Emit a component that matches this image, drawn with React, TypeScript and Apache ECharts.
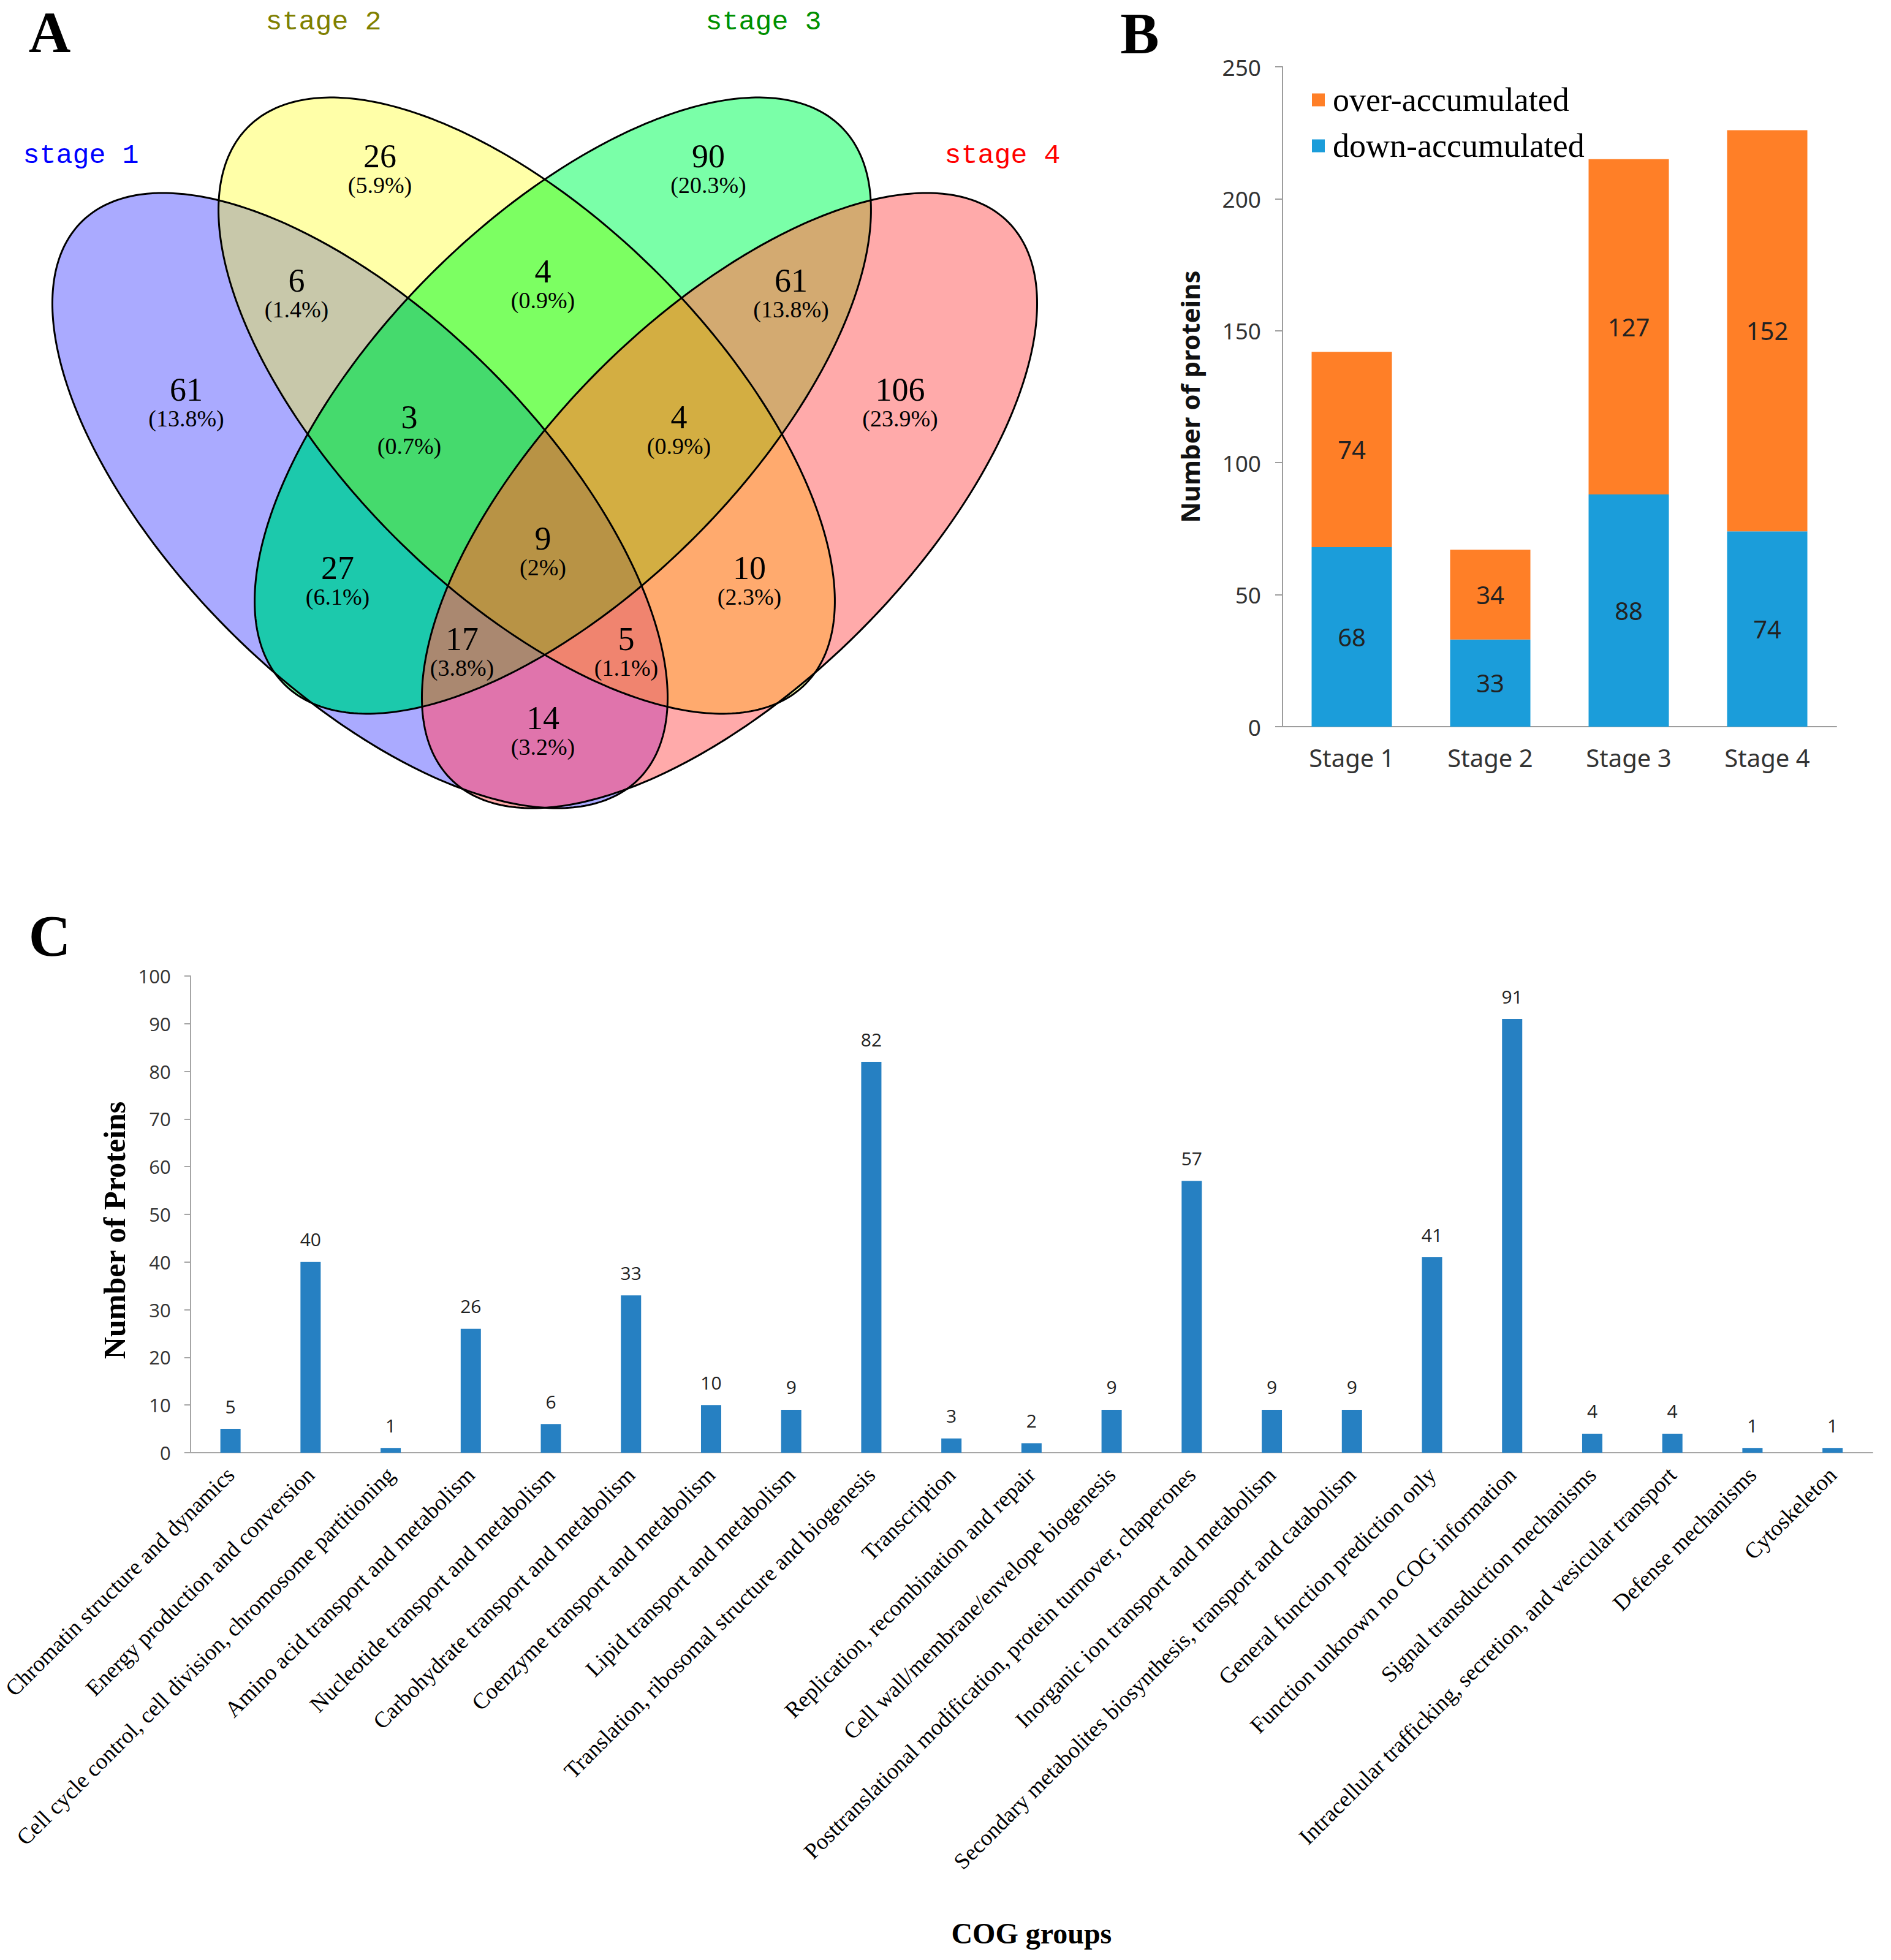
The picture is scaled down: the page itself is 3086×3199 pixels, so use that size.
import React, { useEffect, useRef } from "react";
import * as echarts from "echarts";

// ---------- Panel A data (Venn) ----------
const vennSetNames = ["stage 1", "stage 2", "stage 3", "stage 4"];
const vennSetColors = ["#0000FF", "#808000", "#009000", "#FF0000"];
const vennRegionKeys = ["1", "2", "3", "4", "12", "13", "14", "23", "24", "34", "123", "124", "134", "234", "1234"];
const vennRegionCounts = [61, 26, 90, 106, 6, 27, 14, 4, 10, 61, 3, 5, 17, 4, 9];

// ---------- Panel B data ----------
const stageNames = ["Stage 1", "Stage 2", "Stage 3", "Stage 4"];
const downAccumulated = [68, 33, 88, 74];
const overAccumulated = [74, 34, 127, 152];

// ---------- Panel C data ----------
const cogGroups = [
  "Chromatin structure and dynamics",
  "Energy production and conversion",
  "Cell cycle control, cell division, chromosome partitioning",
  "Amino acid transport and metabolism",
  "Nucleotide transport and metabolism",
  "Carbohydrate transport and metabolism",
  "Coenzyme transport and metabolism",
  "Lipid transport and metabolism",
  "Translation, ribosomal structure and biogenesis",
  "Transcription",
  "Replication, recombination and repair",
  "Cell wall/membrane/envelope biogenesis",
  "Posttranslational modification, protein turnover, chaperones",
  "Inorganic ion transport and metabolism",
  "Secondary metabolites biosynthesis, transport and catabolism",
  "General function prediction only",
  "Function unknown no COG information",
  "Signal transduction mechanisms",
  "Intracellular trafficking, secretion, and vesicular transport",
  "Defense mechanisms",
  "Cytoskeleton",
];
const cogCounts = [5, 40, 1, 26, 6, 33, 10, 9, 82, 3, 2, 9, 57, 9, 9, 41, 91, 4, 4, 1, 1];

// ---------- Venn layout (geometry / styles) ----------
// [cx, cy, semi-major, semi-minor, angle in degrees (screen coords)]
const ellipseGeom: number[][] = [
  [587.5, 817, 643, 301, 45],
  [859.5, 662, 643, 304, 45],
  [918.5, 662, 643, 304, -45],
  [1190.5, 817, 643, 301, -45],
];
const regionColors: Record<string, string> = {
  "1": "#AAAAFF",
  "2": "#FFFFA8",
  "3": "#7AFFA8",
  "4": "#FFAAAA",
  "12": "#C8C8AA",
  "13": "#1CC9AC",
  "14": "#E074AC",
  "23": "#7CFF62",
  "24": "#FFAA6E",
  "34": "#D3AA71",
  "123": "#45DA6D",
  "124": "#F0846F",
  "134": "#AA8870",
  "234": "#D3AE42",
  "1234": "#B89345",
};
const regionLabelPos: Record<string, number[]> = {
  "1": [304, 639],
  "2": [620, 258],
  "3": [1156, 258],
  "4": [1469, 639],
  "12": [484, 461],
  "13": [551, 930],
  "14": [886, 1175],
  "23": [886, 446],
  "24": [1223, 930],
  "34": [1291, 461],
  "123": [668, 684],
  "124": [1022, 1046],
  "134": [754, 1046],
  "234": [1108, 684],
  "1234": [886, 882],
};
const setLabelPos = [
  [132, 254],
  [528, 36],
  [1246, 36],
  [1636, 254],
];

type Pt = [number, number];

function ellipsePts(g: number[], n = 360): Pt[] {
  const [cx, cy, a, b, deg] = g;
  const th = (deg * Math.PI) / 180;
  const c = Math.cos(th);
  const s = Math.sin(th);
  const pts: Pt[] = [];
  for (let i = 0; i < n; i++) {
    const t = (2 * Math.PI * i) / n;
    const u = a * Math.cos(t);
    const v = b * Math.sin(t);
    pts.push([cx + u * c - v * s, cy + u * s + v * c]);
  }
  return pts;
}

function polyArea(p: Pt[]): number {
  let s = 0;
  for (let i = 0; i < p.length; i++) {
    const j = (i + 1) % p.length;
    s += p[i][0] * p[j][1] - p[j][0] * p[i][1];
  }
  return s / 2;
}

function lineInter(P: Pt, Q: Pt, A: Pt, B: Pt): Pt {
  const [x1, y1] = P;
  const [x2, y2] = Q;
  const [x3, y3] = A;
  const [x4, y4] = B;
  const d = (x1 - x2) * (y3 - y4) - (y1 - y2) * (x3 - x4);
  if (Math.abs(d) < 1e-12) return [x1, y1];
  const t = ((x1 - x3) * (y3 - y4) - (y1 - y3) * (x3 - x4)) / d;
  return [x1 + t * (x2 - x1), y1 + t * (y2 - y1)];
}

function clipConvex(subject: Pt[], clipPoly: Pt[]): Pt[] {
  const sg = Math.sign(polyArea(clipPoly));
  let out = subject;
  for (let i = 0; i < clipPoly.length; i++) {
    const A = clipPoly[i];
    const B = clipPoly[(i + 1) % clipPoly.length];
    const inside = (P: Pt) => sg * ((B[0] - A[0]) * (P[1] - A[1]) - (B[1] - A[1]) * (P[0] - A[0])) >= 0;
    const inp = out;
    out = [];
    if (!inp.length) break;
    for (let k = 0; k < inp.length; k++) {
      const P = inp[k];
      const Q = inp[(k + 1) % inp.length];
      const pin = inside(P);
      const qin = inside(Q);
      if (pin) {
        out.push(P);
        if (!qin) out.push(lineInter(P, Q, A, B));
      } else if (qin) {
        out.push(lineInter(P, Q, A, B));
      }
    }
  }
  return out;
}

function pctText(v: number, total: number): string {
  let s = ((v / total) * 100).toFixed(1);
  if (s.endsWith(".0")) s = s.slice(0, -2);
  return "(" + s + "%)";
}

function buildVennGraphics(): any[] {
  const ell = ellipseGeom.map((g) => ellipsePts(g));
  const els: any[] = [];
  const order = vennRegionKeys.map((k, i) => ({ k, i })).sort((a, b) => a.k.length - b.k.length);
  for (const { k } of order) {
    const idx = k.split("").map((c) => parseInt(c, 10) - 1);
    let poly = ell[idx[0]];
    for (let j = 1; j < idx.length; j++) poly = clipConvex(poly, ell[idx[j]]);
    if (poly.length < 3) continue;
    els.push({
      type: "polygon",
      silent: true,
      shape: { points: poly },
      style: { fill: regionColors[k], stroke: regionColors[k], lineWidth: 0.6 },
    });
  }
  for (const p of ell) {
    els.push({
      type: "polygon",
      silent: true,
      shape: { points: p },
      style: { fill: "none", stroke: "#000", lineWidth: 3 },
    });
  }
  const total = vennRegionCounts.reduce((a, b) => a + b, 0);
  vennRegionKeys.forEach((k, i) => {
    const [x, y] = regionLabelPos[k];
    els.push({
      type: "text",
      silent: true,
      x,
      y: y - 3,
      style: {
        text: String(vennRegionCounts[i]),
        fill: "#000",
        fontFamily: "Liberation Serif",
        fontSize: 54,
        lineHeight: 54,
        textAlign: "center",
        textVerticalAlign: "middle",
      },
    });
    els.push({
      type: "text",
      silent: true,
      x,
      y: y + 44,
      style: {
        text: pctText(vennRegionCounts[i], total),
        fill: "#000",
        fontFamily: "Liberation Serif",
        fontSize: 38,
        lineHeight: 38,
        textAlign: "center",
        textVerticalAlign: "middle",
      },
    });
  });
  vennSetNames.forEach((name, i) => {
    els.push({
      type: "text",
      silent: true,
      x: setLabelPos[i][0],
      y: setLabelPos[i][1],
      style: {
        text: name,
        fill: vennSetColors[i],
        fontFamily: "Liberation Mono",
        fontSize: 45,
        textAlign: "center",
        textVerticalAlign: "middle",
      },
    });
  });
  return els;
}

function panelLetter(text: string, x: number, y: number) {
  return {
    type: "text",
    silent: true,
    x,
    y,
    style: {
      text,
      fill: "#000",
      fontFamily: "Liberation Serif",
      fontWeight: "bold",
      fontSize: 95,
      textAlign: "center",
      textVerticalAlign: "middle",
    },
  };
}

export default function App() {
  const ref = useRef<HTMLDivElement>(null);
  useEffect(() => {
    if (!ref.current) return;
    const chart = echarts.init(ref.current, undefined, { renderer: "svg" });
    const axisGray = "#9d9d9d";
    const option: any = {
      animation: false,
      backgroundColor: "#ffffff",
      legend: {
        data: ["over-accumulated", "down-accumulated"],
        orient: "vertical",
        left: 2136,
        top: 128,
        itemWidth: 21,
        itemHeight: 21,
        itemGap: 15,
        icon: "rect",
        selectedMode: false,
        textStyle: {
          fontFamily: "Liberation Serif",
          fontSize: 54,
          color: "#000",
          lineHeight: 60,
          padding: [0, 0, 0, 8],
        },
      },
      grid: [
        { left: 2093, top: 109, width: 904, height: 1077 },
        { left: 303, top: 1593, width: 2753, height: 778 },
      ],
      xAxis: [
        {
          type: "category",
          gridIndex: 0,
          data: stageNames,
          axisLine: { lineStyle: { color: axisGray, width: 2 } },
          axisTick: { show: false },
          axisLabel: { fontFamily: "Noto Sans", fontSize: 40, color: "#333", margin: 30 },
        },
        {
          type: "category",
          gridIndex: 1,
          data: cogGroups,
          axisLine: { lineStyle: { color: "#a6a6a6", width: 2 } },
          axisTick: { show: false },
          axisLabel: {
            interval: 0,
            rotate: 45,
            fontFamily: "Liberation Serif",
            fontSize: 37,
            color: "#000",
            margin: 30,
          },
          name: "COG groups",
          nameLocation: "middle",
          nameGap: 760,
          nameTextStyle: { fontFamily: "Liberation Serif", fontWeight: "bold", fontSize: 48, color: "#000" },
        },
      ],
      yAxis: [
        {
          type: "value",
          gridIndex: 0,
          min: 0,
          max: 250,
          interval: 50,
          axisLine: { show: true, lineStyle: { color: axisGray, width: 2 } },
          axisTick: { show: true, length: 12, lineStyle: { color: axisGray, width: 2 } },
          splitLine: { show: false },
          axisLabel: { fontFamily: "Noto Sans", fontSize: 37, color: "#333", margin: 35 },
          name: "Number of proteins",
          nameLocation: "middle",
          nameRotate: 90,
          nameGap: 131,
          nameTextStyle: { fontFamily: "Noto Sans", fontWeight: "bold", fontSize: 42, color: "#111" },
        },
        {
          type: "value",
          gridIndex: 1,
          min: 0,
          max: 100,
          interval: 10,
          axisLine: { show: true, lineStyle: { color: "#a6a6a6", width: 2 } },
          axisTick: { show: true, length: 10, lineStyle: { color: "#a6a6a6", width: 2 } },
          splitLine: { show: false },
          axisLabel: { fontFamily: "Open Sans", fontSize: 31, color: "#333", margin: 32 },
          name: "Number of Proteins",
          nameLocation: "middle",
          nameRotate: 90,
          nameGap: 99,
          nameTextStyle: {
            fontFamily: "Liberation Serif",
            fontWeight: "bold",
            fontSize: 50,
            color: "#000",
            padding: [0, 52, 0, 0],
          },
        },
      ],
      series: [
        {
          name: "down-accumulated",
          type: "bar",
          xAxisIndex: 0,
          yAxisIndex: 0,
          stack: "stage",
          data: downAccumulated,
          barWidth: 131,
          itemStyle: { color: "#1B9DDA" },
          label: { show: true, position: "inside", fontFamily: "Noto Sans", fontSize: 40, color: "#222" },
        },
        {
          name: "over-accumulated",
          type: "bar",
          xAxisIndex: 0,
          yAxisIndex: 0,
          stack: "stage",
          data: overAccumulated,
          barWidth: 131,
          itemStyle: { color: "#FF7F27" },
          label: { show: true, position: "inside", fontFamily: "Noto Sans", fontSize: 40, color: "#222" },
        },
        {
          name: "COG",
          type: "bar",
          xAxisIndex: 1,
          yAxisIndex: 1,
          data: cogCounts,
          barWidth: 33,
          itemStyle: { color: "#2680C2" },
          label: { show: true, position: "top", distance: 22, fontFamily: "Open Sans", fontSize: 30, color: "#222" },
        },
      ],
      graphic: [
        ...buildVennGraphics(),
        panelLetter("A", 81, 53),
        panelLetter("B", 1860, 55),
        panelLetter("C", 81, 1528),
      ],
    };
    chart.setOption(option);
    return () => chart.dispose();
  }, []);
  return (
    <div
      ref={ref}
      style={{ position: "absolute", left: 0, top: 0, width: 3086, height: 3199, background: "#fff" }}
    />
  );
}
